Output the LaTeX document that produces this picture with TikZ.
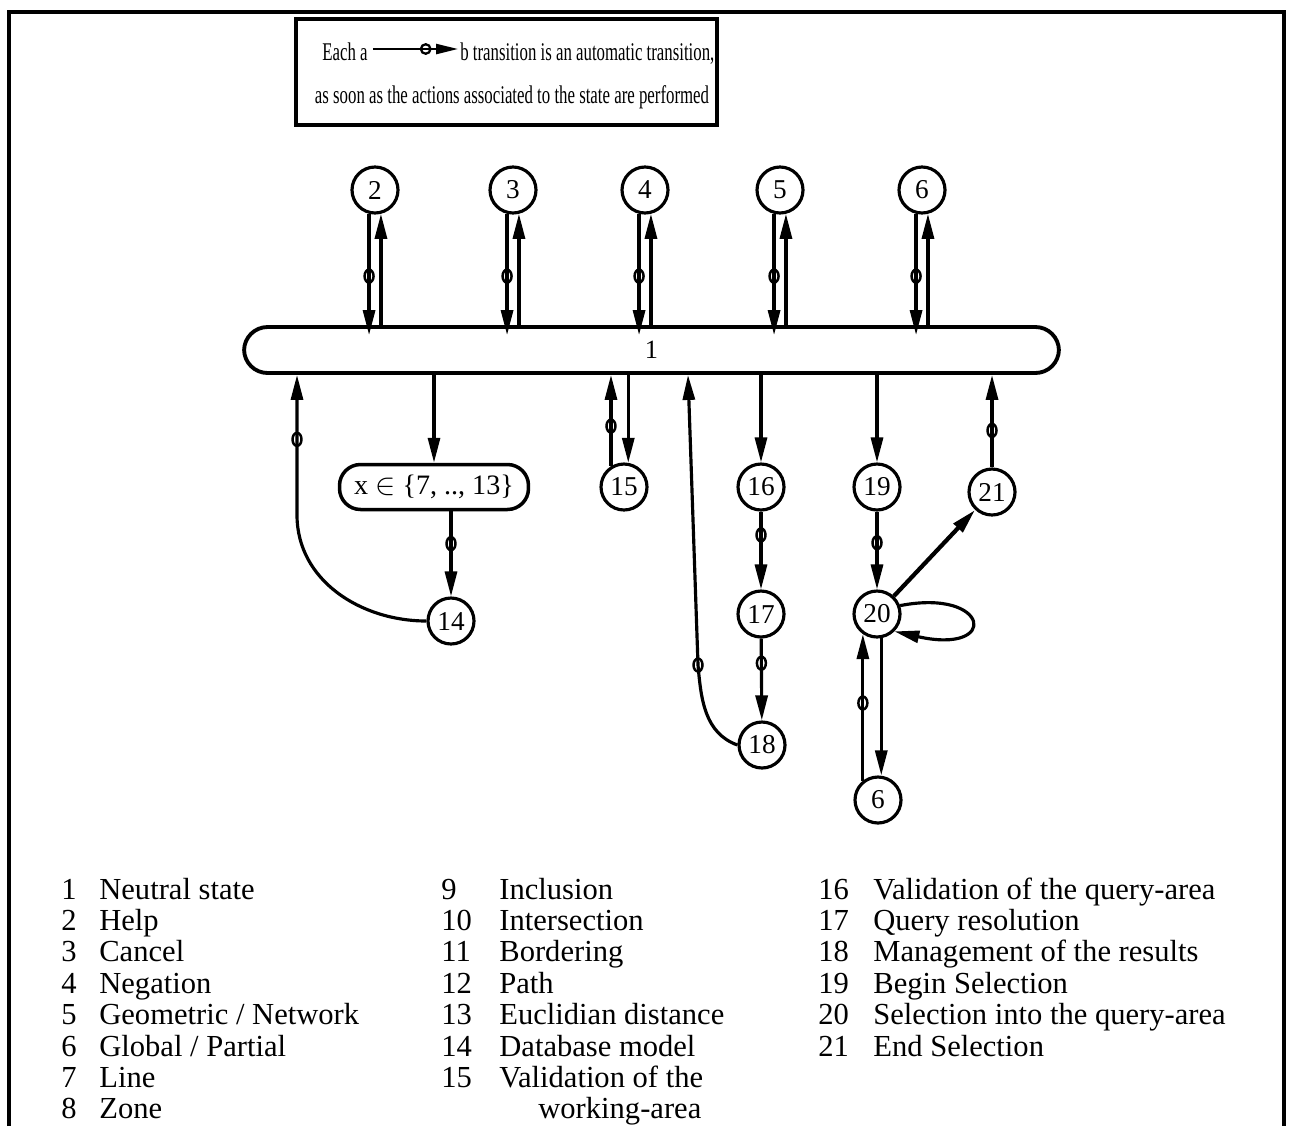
\documentclass[tikz,border=0pt]{standalone}
\usepackage{fontspec}
\setmainfont{Liberation Serif}
\newfontfamily\boxfont[FakeStretch=0.66]{Liberation Serif}
\usetikzlibrary{arrows.meta, shapes.geometric, positioning, calc}

\begin{document}
\begin{tikzpicture}[
        x=0.02cm, y=-0.02cm,
        % Styles
        state/.style={circle, draw, line width=1.8pt, minimum size=0.92cm, inner sep=0pt, font=\fontsize{15.5}{17}\selectfont},
        hub/.style={rectangle, draw, rounded corners=0.47cm, line width=2.2pt, minimum width=16.3cm, minimum height=0.92cm, inner sep=0pt, font=\fontsize{15}{17}\selectfont},
        choice/.style={rectangle, draw, rounded corners=0.42cm, line width=2pt, minimum width=3.78cm, minimum height=0.9cm, inner sep=0pt, font=\fontsize{16}{18}\selectfont},
        note/.style={rectangle, draw, line width=2pt, minimum width=8.42cm, minimum height=2.12cm, inner sep=0pt},
        boxtxt/.style={inner sep=0pt, font=\boxfont\fontsize{14.5}{17}\selectfont},
        arr/.style={-{Triangle[length=0.5cm, width=0.24cm]}, line width=1.8pt},
        ring/.style={ellipse, draw, line width=1.4pt, inner sep=0pt, minimum width=0.18cm, minimum height=0.26cm},
        legnum/.style={anchor=base west, inner sep=0pt, font=\fontsize{17.4}{20}\selectfont},
        legtxt/.style={legnum},
        frame/.style={line width=2.6pt}
    ]
    \useasboundingbox (0,0) rectangle (1293,1126);

    % Outer frame (open at the bottom)
    \draw[frame] (9,1126) -- (9,12) -- (1284,12) -- (1284,1126);

    % Key box
    \node[note] (key) at (506.5,72) {};
    \node[boxtxt, anchor=base west] (eacha) at (322,60) {Each a};
    \node[boxtxt, anchor=base west] (btrans) at (460,60) {b transition is an automatic transition,};
    \node[boxtxt, anchor=base] (asoon) at (512,103) {as soon as the actions associated to the state are performed};
    \draw[-{Triangle[length=0.44cm, width=0.2cm]}, line width=1.4pt]
        ([xshift=0.1cm, yshift=0.22cm]eacha.base east) -- node[circle, draw, line width=1.3pt, inner sep=0pt, minimum size=0.19cm, pos=0.62] {}
        ([xshift=-0.04cm, yshift=0.22cm]btrans.base west);

    % Neutral state bar
    \node[hub] (hub) at (651.5,350) {1};

    % Upper states
    \node[state] (c2) at (375,190) {2};
    \node[state] (c3) at (513,190) {3};
    \node[state] (c4) at (645,190) {4};
    \node[state] (c5) at (780,190) {5};
    \node[state] (c6) at (922,190) {6};

    \foreach \k in {2,...,6} {
        \draw[arr, shorten >=-0.2cm] (c\k.-104) -- node[ring, pos=0.56] {} (c\k.-104 |- hub.north);
        \draw[arr] (c\k.-76 |- hub.north) -- (c\k.-76);
    }

    % Lower states
    \node[choice] (xset) at (434,487) {x $\in$ \{7, .., 13\}};
    \node[state] (c14) at (451,621) {14};
    \node[state] (c15) at (624,487) {15};
    \node[state] (c16) at (761,487) {16};
    \node[state] (c17) at (761,614) {17};
    \node[state] (c18) at (762,745) {18};
    \node[state] (c19) at (877,487) {19};
    \node[state] (c20) at (877,614) {20};
    \node[state] (c21) at (992,492) {21};
    \node[state] (c6b) at (878,800) {6};

    \coordinate (k14) at (297,515);
    \coordinate (k18) at (698,665);
    \coordinate (u18) at (688,375);

    \draw[arr] (hub.south -| xset.north) -- (xset.north);
    \draw[arr] (c14.north |- xset.south) -- node[ring, pos=0.38] {} (c14.north);
    \draw[arr] (c14.west) to[out=180, in=-90] (k14) -- node[ring, pos=0.54] {} (k14 |- hub.south);

    \draw[arr] (c15.122) -- node[ring, pos=0.44] {} (c15.122 |- hub.south);
    \draw[arr] (hub.south -| c15.80) -- (c15.80);

    \draw[arr] (hub.south -| c16.north) -- (c16.north);
    \draw[arr] (c16) -- node[ring, pos=0.3] {} (c17);
    \draw[arr] (c17) -- node[ring, pos=0.3] {} (c18);
    \draw[arr] (c18.west) to[out=160, in=-85] (k18) node[ring] {} -- (hub.south -| u18);

    \draw[arr] (hub.south -| c19.north) -- (c19.north);
    \draw[arr] (c19) -- node[ring, pos=0.4] {} (c20);
    \draw[arr, line width=2.4pt] (c20) -- (c21);
    \draw[arr] (c21.north) -- node[ring, pos=0.4] {} (c21.north |- hub.south);
    \draw[arr] (c20.20) .. controls (990,588) and (1000,655) .. (c20.-45);
    \draw[arr] (c20.-80) -- (c20.-80 |- c6b.north);
    \draw[arr] (c6b.128) -- node[ring, pos=0.53] {} (c6b.128 |- c20.235);

    % Legend
    \foreach \n/\t [count=\i] in {1/Neutral state, 2/Help, 3/Cancel, 4/Negation, 5/{Geometric / Network}, 6/{Global / Partial}, 7/Line, 8/Zone} {
        \node[legnum] (na\i) at (61, {899+31.4*(\i-1)}) {\n};
        \node[legtxt] (ta\i) at (99, {899+31.4*(\i-1)}) {\t};
    }
    \foreach \n/\t [count=\i] in {9/Inclusion, 10/Intersection, 11/Bordering, 12/Path, 13/Euclidian distance, 14/Database model, 15/Validation of the} {
        \node[legnum] (nb\i) at (441, {899+31.4*(\i-1)}) {\n};
        \node[legtxt] (tb\i) at (499, {899+31.4*(\i-1)}) {\t};
    }
    \node[legtxt] (tb8) at (538, {899+31.4*7}) {working-area};
    \foreach \n/\t [count=\i] in {16/Validation of the query-area, 17/Query resolution, 18/Management of the results, 19/Begin Selection, 20/Selection into the query-area, 21/End Selection} {
        \node[legnum] (nc\i) at (818, {899+31.4*(\i-1)}) {\n};
        \node[legtxt] (tc\i) at (873, {899+31.4*(\i-1)}) {\t};
    }

\end{tikzpicture}
\end{document}
